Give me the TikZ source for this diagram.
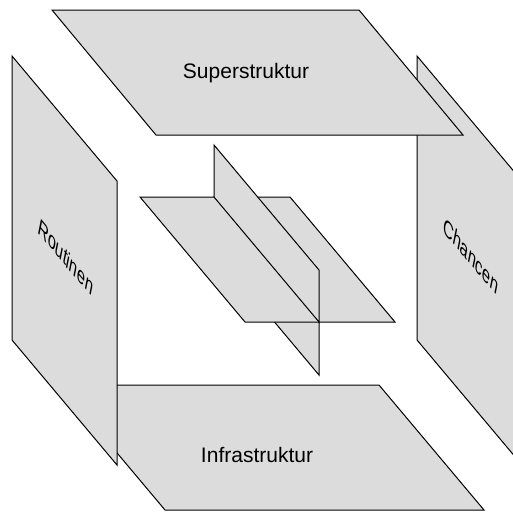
\documentclass[tikz,border=0pt]{standalone}
\usepackage{fontspec}
\setmainfont{Liberation Sans}
\definecolor{panelgray}{RGB}{220,220,220}
\begin{document}
\begin{tikzpicture}[x=1pt,y=1pt,
  panel/.style={fill=panelgray,draw=black,line width=1pt,line join=miter},
  lbl/.style={inner sep=0pt,font=\fontsize{21}{25}\selectfont}]
\useasboundingbox (0,0) rectangle (513,-512);
\begin{scope}
\clip (0,0) rectangle (513,-512);
% bottom panel
\draw[panel] (60,-385) -- (379,-385) -- (484,-510) -- (165,-510) -- cycle;
% left panel
\draw[panel] (12,-56) -- (117,-181) -- (117,-465) -- (12,-340) -- cycle;
% right panel
\draw[panel] (417,-56) -- (522,-181) -- (522,-465) -- (417,-340) -- cycle;
% top panel
\draw[panel] (52,-10) -- (359,-10) -- (463,-135) -- (156,-135) -- cycle;
% centre: lower half of the vertical plane
\draw[panel] (214,-197) -- (319,-322) -- (319,-375) -- (214,-250) -- cycle;
% centre: horizontal plane
\draw[panel] (140,-197) -- (290,-197) -- (395,-322) -- (245,-322) -- cycle;
% centre: upper half of the vertical plane
\draw[panel] (214,-145) -- (319,-270) -- (319,-322) -- (214,-197) -- cycle;
\end{scope}
\node[lbl] (sup) at (246,-73) {Superstruktur};
\node[lbl] (inf) at (257,-455) {Infrastruktur};
\begin{scope}[shift={(66,-257)},cm={0.643,-0.765,0.2,1,(0,0)}]
\node[lbl,transform shape] (rou) at (0,0) {Routinen};
\end{scope}
\begin{scope}[shift={(471,-256)},cm={0.643,-0.765,0.2,1,(0,0)}]
\node[lbl,transform shape] (cha) at (0,0) {Chancen};
\end{scope}
\end{tikzpicture}
\end{document}
